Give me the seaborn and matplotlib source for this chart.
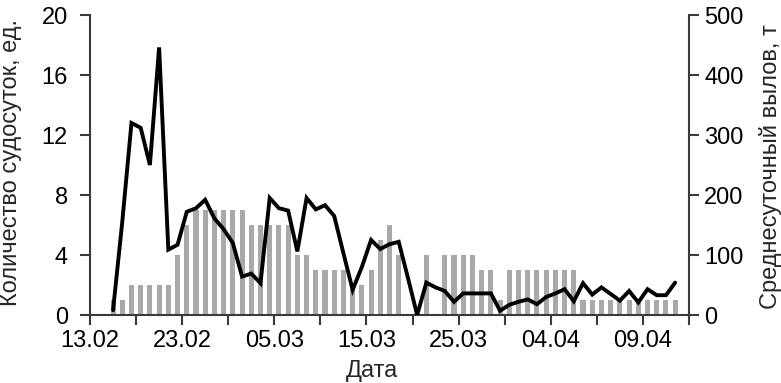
import numpy as np
import pandas as pd
import matplotlib
matplotlib.use("Agg")
import matplotlib.pyplot as plt
import seaborn as sns

# Daily observations, 15.02 – 17.04
dates = pd.date_range("2023-02-15", "2023-04-17", freq="D")
vessel_days = [1, 1, 2, 2, 2, 2, 2, 4, 6, 7,
               7, 7, 7, 7, 7, 6, 6, 6, 6, 6,
               4, 4, 3, 3, 3, 3, 2, 2, 3, 5,
               6, 4, 0, 0, 4, 0, 4, 4, 4, 4,
               3, 3, 1, 3, 3, 3, 3, 3, 3, 3,
               3, 1, 1, 1, 1, 1, 1, 1, 1, 1,
               1, 1]
daily_catch = [8, 155, 320, 312, 250, 446, 109, 117, 172, 178,
               192, 161, 143, 120, 64, 69, 53, 195, 178, 174,
               106, 195, 176, 183, 165, 103, 42, 80, 125, 110,
               118, 122, 62, 0, 54, 46, 40, 22, 36, 36,
               36, 36, 7, 17, 22, 26, 18, 30, 36, 43,
               23, 53, 34, 46, 35, 24, 40, 21, 43, 33,
               33, 54]
tick_labels = ["13.02", "23.02", "05.03", "15.03", "25.03", "04.04", "09.04"]

start = pd.Timestamp("2023-02-13")
df = pd.DataFrame({
    "day": (dates - start).days + 0.5,
    "vessels": vessel_days,
    "catch": daily_catch,
})

sns.set_style("ticks")
plt.rcParams["font.family"] = ["Liberation Sans", "DejaVu Sans"]
FS = 17
SPINE = "#3a3a3a"

W, H = 781, 383
fig = plt.figure(figsize=(W / 100, H / 100), dpi=100)
ax = fig.add_axes([90 / W, 1 - 315 / H, 599 / W, 300 / H])

sns.barplot(data=df, x="day", y="vessels", native_scale=True, width=0.55,
            color="#a9a9a9", saturation=1, edgecolor="none", ax=ax)
ax.set_xlim(0, 65)
ax.set_ylim(0, 20)
ax.set_yticks([0, 4, 8, 12, 16, 20])

xt = np.arange(0, 66, 5)
ax.set_xticks(xt)
ax.set_xticklabels([tick_labels[i // 2] if i % 2 == 0 else "" for i in range(len(xt))])

ax2 = ax.twinx()
sns.lineplot(data=df, x="day", y="catch", color="black", linewidth=2.8,
             ax=ax2, solid_joinstyle="miter")
ax2.set_ylim(0, 500)
ax2.set_yticks([0, 100, 200, 300, 400, 500])
ax2.set_xlim(0, 65)

for a in (ax, ax2):
    a.set_xlabel("")
    a.set_ylabel("")
    for s in a.spines.values():
        s.set_color(SPINE)
        s.set_linewidth(1.5)
    a.spines["top"].set_visible(False)

ax.spines["right"].set_visible(False)
ax2.spines["left"].set_visible(False)
ax2.spines["bottom"].set_visible(False)

ax.tick_params(axis="y", labelsize=FS, length=7, width=1.5, color=SPINE, pad=9,
               labelcolor="black")
ax.tick_params(axis="x", labelsize=FS, length=7, width=1.5, color=SPINE, pad=4,
               labelcolor="black")
ax2.tick_params(axis="y", labelsize=FS, length=7, width=1.5, color=SPINE, pad=4,
                labelcolor="black")

fig.text(11 / W, 1 - 163 / H, "Количество судосуток, ед.", rotation=90,
         ha="center", va="center", fontsize=FS)
fig.text(770 / W, 1 - 167 / H, "Среднесуточный вылов, т", rotation=90,
         ha="center", va="center", fontsize=FS)
fig.text(372 / W, 1 - 371 / H, "Дата", ha="center", va="center", fontsize=FS)

fig.savefig("out.png", dpi=100, facecolor="white")
